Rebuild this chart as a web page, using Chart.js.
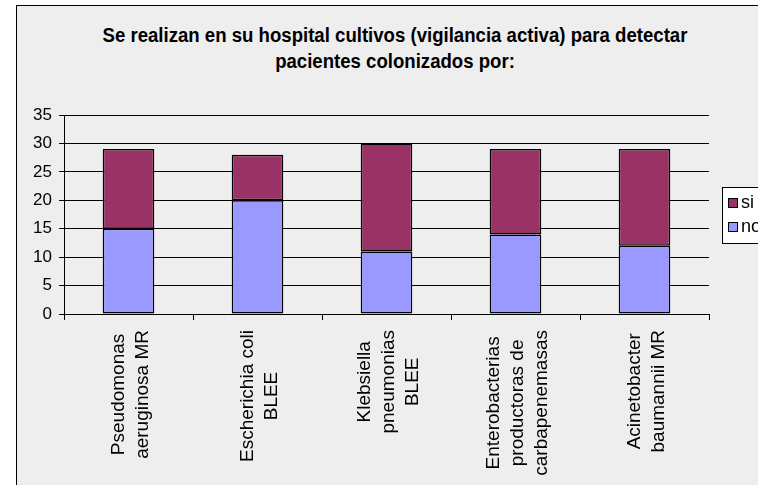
<!DOCTYPE html>
<html>
<head>
<meta charset="utf-8">
<script src="https://cdn.jsdelivr.net/npm/chart.js@4.4.1/dist/chart.umd.min.js"></script>
<style>
    html, body {
        margin: 0;
        padding: 0;
        width: 758px;
        height: 485px;
        overflow: hidden;
        background: #ffffff;
        font-family: "Liberation Sans", Arial, sans-serif;
    }
    #frame {
        position: absolute;
        left: 16px;
        top: 5px;
        width: 800px;
        height: 520px;
        border: 1px solid #000000;
        background: #eeeeee;
    }
    #title {
        position: absolute;
        left: 17px;
        top: 22px;
        width: 756px;
        text-align: center;
        font-weight: bold;
        font-size: 18.6px;
        line-height: 24px;
        color: #000000;
        transform: scaleY(1.1);
        transform-origin: 50% 0;
    }
    #chart-box {
        position: absolute;
        left: 17px;
        top: 6px;
        width: 741px;
        height: 479px;
    }
</style>
</head>
<body>
<div id="frame"></div>
<div id="title">Se realizan en su hospital cultivos (vigilancia activa) para detectar<br>pacientes colonizados por:</div>
<div id="chart-box"><canvas id="chart"></canvas></div>
<script>
const categories = [
    ["Pseudomonas", "aeruginosa MR"],
    ["Escherichia coli", "BLEE"],
    ["Klebsiella", "pneumonias", "BLEE"],
    ["Enterobacterias", "productoras de", "carbapenemasas"],
    ["Acinetobacter", "baumannii MR"],
];
const noValues = [15, 20, 11, 14, 12];
const siValues = [14, 8, 19, 15, 17];
const seriesNames = ["no", "si"];
const yMax = 35;
const yStep = 5;

const colors = {
    no: "#9999ff",
    si: "#993366",
};

const labelFont = '19px "Liberation Sans", Arial, sans-serif';

// x labels: lines centred inside each label, block hanging under the axis
const categoryLabels = {
    id: "categoryLabels",
    afterDraw(chart) {
        const ctx = chart.ctx;
        const xScale = chart.scales.x;
        ctx.save();
        ctx.font = labelFont;
        ctx.fillStyle = "#000";
        ctx.textAlign = "center";
        ctx.textBaseline = "middle";
        categories.forEach((lines, i) => {
            const px = xScale.getPixelForValue(i) + 2;
            const maxWidth = Math.max(...lines.map((line) => ctx.measureText(line).width));
            const centerY = xScale.top + 16 + maxWidth / 2;
            lines.forEach((line, j) => {
                ctx.save();
                ctx.translate(px + (j - (lines.length - 1) / 2) * 24, centerY);
                ctx.rotate(-Math.PI / 2);
                ctx.fillText(line, 0, 0);
                ctx.restore();
            });
        });
        ctx.restore();
    },
};

// boxed legend to the right, cut off by the page edge like the original
const boxedLegend = {
    id: "boxedLegend",
    afterDraw(chart) {
        const ctx = chart.ctx;
        const area = chart.chartArea;
        const left = area.right + 13;
        const top = Math.round((area.top + area.bottom) / 2 - 28);
        ctx.save();
        ctx.fillStyle = "#ffffff";
        ctx.fillRect(left, top, 80, 56);
        ctx.strokeStyle = "#000";
        ctx.lineWidth = 1;
        ctx.strokeRect(left + 0.5, top + 0.5, 80, 56);
        ctx.font = '18px "Liberation Sans", Arial, sans-serif';
        ctx.textBaseline = "middle";
        const items = chart.data.datasets.slice().reverse();
        items.forEach((dataset, i) => {
            const cy = top + 16 + i * 24;
            ctx.fillStyle = dataset.backgroundColor;
            ctx.fillRect(left + 6, cy - 5, 9, 9);
            ctx.strokeRect(left + 6.5, cy - 4.5, 9, 9);
            ctx.fillStyle = "#000";
            ctx.fillText(dataset.label, left + 19, cy);
        });
        ctx.restore();
    },
};

new Chart(document.getElementById("chart"), {
    type: "bar",
    data: {
        labels: categories.map((lines) => lines.join(" ")),
        datasets: [
            {
                label: seriesNames[0],
                data: noValues,
                backgroundColor: colors.no,
                borderColor: "#000",
                borderWidth: 1.5,
                borderSkipped: false,
                barPercentage: 0.4,
                categoryPercentage: 1.0,
            },
            {
                label: seriesNames[1],
                data: siValues,
                backgroundColor: colors.si,
                borderColor: "#000",
                borderWidth: 1.5,
                borderSkipped: false,
                barPercentage: 0.4,
                categoryPercentage: 1.0,
            },
        ],
    },
    options: {
        responsive: true,
        maintainAspectRatio: false,
        animation: false,
        layout: { padding: { top: 109, right: 49, bottom: 0, left: 0 } },
        plugins: {
            legend: { display: false },
            title: { display: false },
            tooltip: { enabled: false },
        },
        scales: {
            x: {
                stacked: true,
                afterFit: (scale) => { scale.height = 171; },
                ticks: { display: false },
                grid: {
                    offset: true,
                    drawOnChartArea: false,
                    color: "#000",
                    tickLength: 6,
                },
                border: { color: "#000" },
            },
            y: {
                stacked: true,
                min: 0,
                max: yMax,
                afterFit: (scale) => { scale.width = 47; },
                ticks: {
                    stepSize: yStep,
                    color: "#000",
                    padding: 7,
                    font: { family: '"Liberation Sans", Arial, sans-serif', size: 17 },
                },
                grid: {
                    color: "#000",
                    tickLength: 5,
                },
                border: { color: "#000" },
            },
        },
    },
    plugins: [categoryLabels, boxedLegend],
});
</script>
</body>
</html>
